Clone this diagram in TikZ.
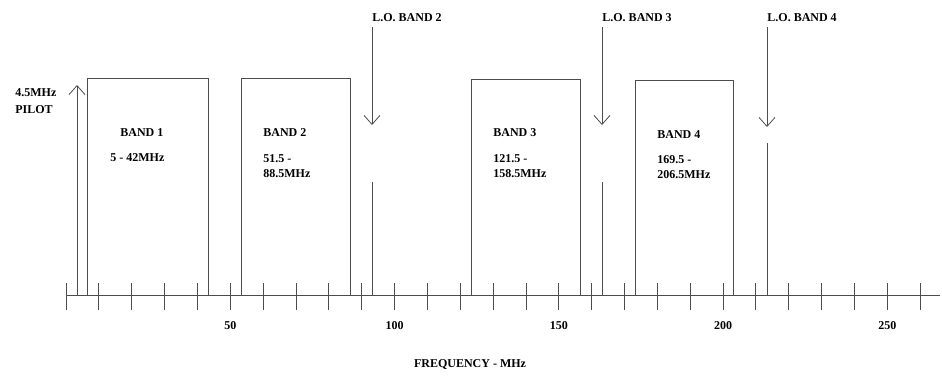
\documentclass[tikz,border=0pt]{standalone}
\usepackage{fontspec}
\setmainfont{Liberation Serif}
\usetikzlibrary{arrows.meta}

\begin{document}
\begin{tikzpicture}[x=1pt, y=-1pt, >={Straight Barb[length=9pt,width=16pt]},
    line width=0.8pt,
    axisline/.style={draw=black!70},
    bandline/.style={draw=black!70},
    lbl/.style={font=\fontsize{12}{15}\selectfont\bfseries, inner sep=0pt,
                anchor=west, align=left}]
  \useasboundingbox (0,0) rectangle (942,376);

  % frequency axis, one tick every 10 MHz
  \coordinate (ax0) at (66,295);
  \coordinate (ax1) at (940,295);
  \draw[axisline] (ax0) -- (ax1);
  \foreach \k in {0,...,26}
    \draw[axisline] ({66+32.85*\k},283) -- ({66+32.85*\k},310);
  \foreach \f in {50,100,...,250}
    \node[lbl,anchor=center] (tick\f) at ({66+3.285*\f},326) {\f};
  \node[lbl,anchor=center] (freq) at (470,364) {FREQUENCY - MHz};

  % pilot carrier
  \coordinate (pilot) at (77,295);
  \coordinate (pilottip) at (77,85);
  \draw[->,axisline] (pilot) -- (pilottip);
  \node[lbl,anchor=north west] (pilotlbl) at (15,88) {4.5MHz\\[2pt]PILOT};

  % the four bands
  \draw[bandline] (87,295) |- (208,78) -- (208,295);
  \node[lbl] (band1) at (120,133) {BAND 1};
  \node[lbl] (range1) at (110,158) {5 - 42MHz};

  \draw[bandline] (241,295) |- (350,78) -- (350,295);
  \node[lbl] (band2) at (263,133) {BAND 2};
  \node[lbl,anchor=north west] (range2) at (263,154) {51.5 -\\88.5MHz};

  \draw[bandline] (471,295) |- (580,79) -- (580,295);
  \node[lbl] (band3) at (493,133) {BAND 3};
  \node[lbl,anchor=north west] (range3) at (493,154) {121.5 -\\158.5MHz};

  \draw[bandline] (635,295) |- (733,80) -- (733,295);
  \node[lbl] (band4) at (657,135) {BAND 4};
  \node[lbl,anchor=north west] (range4) at (657,155) {169.5 -\\206.5MHz};

  % local oscillators
  \node[lbl] (lo2) at (372,18) {L.O. BAND 2};
  \node[lbl] (lo3) at (602,18) {L.O. BAND 3};
  \node[lbl] (lo4) at (767,18) {L.O. BAND 4};
  \coordinate (lo2tip) at (372,125);
  \coordinate (lo3tip) at (602,125);
  \coordinate (lo4tip) at (767,127);
  \draw[->,axisline] (372,27) -- (lo2tip);
  \draw[->,axisline] (602,27) -- (lo3tip);
  \draw[->,axisline] (767,27) -- (lo4tip);
  \draw[axisline] (372,182) -- (372,295);
  \draw[axisline] (602,182) -- (602,295);
  \draw[axisline] (767,143) -- (767,295);
\end{tikzpicture}
\end{document}
